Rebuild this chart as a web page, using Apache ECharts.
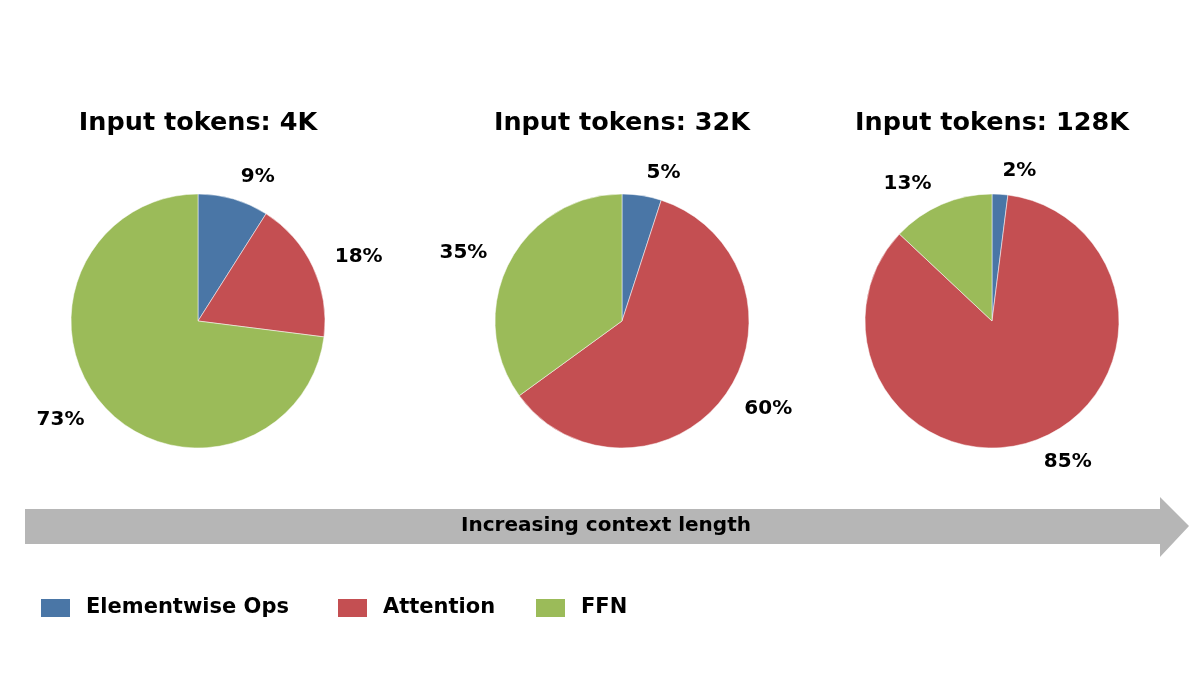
<!DOCTYPE html>
<html>
<head>
<meta charset="utf-8">
<script src="https://cdn.jsdelivr.net/npm/echarts@6/dist/echarts.min.js"></script>
<style>
  html, body { margin: 0; padding: 0; background: #fff; }
  #chart { width: 1200px; height: 675px; }
</style>
</head>
<body>
<div id="chart"></div>
<script>
// share of time per op type, in percent
var categories = ["Elementwise Ops", "Attention", "FFN"];
var colors = ["#4a76a6", "#c44f52", "#9bbb59"];
var contexts = ["4K", "32K", "128K"];
var shares = [
  [9, 18, 73],   // 4K
  [5, 60, 35],   // 32K
  [2, 85, 13]    // 128K
];
var centersX = [198, 622, 992];
var legendLeft = [39, 336, 534];

var chartDom = document.getElementById("chart");
var myChart = echarts.init(chartDom);
var font = "DejaVu Sans";

function pieData(vals) {
  return vals.map(function (v, i) {
    return { name: categories[i], value: v, itemStyle: { color: colors[i] } };
  });
}

var titles = [];
var pies = [];
contexts.forEach(function (c, k) {
  titles.push({
    text: "Input tokens: " + c,
    left: centersX[k],
    top: 110,
    textAlign: "center",
    padding: 0,
    textStyle: { fontFamily: font, fontSize: 25.5, fontWeight: "bold", color: "#000" }
  });
  pies.push({
    type: "pie",
    center: [centersX[k], 321],
    radius: 127,
    startAngle: 90,
    clockwise: true,
    animation: false,
    label: {
      show: true,
      position: "outside",
      formatter: "{c}%",
      fontFamily: font,
      fontSize: 20,
      fontWeight: "bold",
      color: "#000",
      distanceToLabelLine: 1
    },
    labelLine: { show: false, length: 23, length2: 0 },
    itemStyle: { borderColor: "#fff", borderWidth: 0.5 },
    data: pieData(shares[k])
  });
});

// one legend per item so the gaps can follow the original
var legends = categories.map(function (name, i) {
  return {
    data: [name],
    left: legendLeft[i],
    top: 597,
    padding: 0,
    icon: "rect",
    itemWidth: 31,
    itemHeight: 20,
    selectedMode: false,
    textStyle: { fontFamily: font, fontSize: 21, fontWeight: "bold", color: "#000", padding: [0, 0, 0, 10] }
  };
});

var option = {
  backgroundColor: "#fff",
  title: titles,
  legend: legends,
  graphic: [
    {
      type: "polygon",
      shape: { points: [[25, 509], [1160, 509], [1160, 497], [1189, 526], [1160, 557], [1160, 544], [25, 544]] },
      style: { fill: "#b6b6b6" },
      silent: true
    },
    {
      type: "text",
      x: 606,
      y: 526,
      style: {
        text: "Increasing context length",
        fontFamily: font,
        fontSize: 20,
        fontWeight: "bold",
        fill: "#000",
        align: "center",
        verticalAlign: "middle"
      },
      silent: true
    }
  ],
  series: pies
};

option && myChart.setOption(option);
</script>
</body>
</html>
